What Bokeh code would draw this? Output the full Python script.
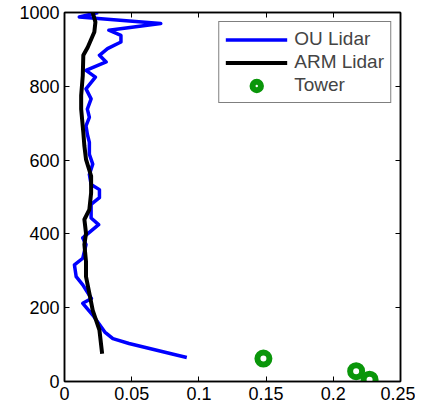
from bokeh.plotting import figure
from bokeh.models import (LinearAxis, FixedTicker, CustomJSTickFormatter, Range1d,
                          Legend, LegendItem)
from bokeh.embed import file_html
from bokeh.resources import INLINE

# ---- data ----
ou_x = [0.091, 0.084, 0.048, 0.036, 0.030, 0.021, 0.0136, 0.020, 0.0136, 0.0087,
        0.0074, 0.0136, 0.016, 0.0136, 0.0254, 0.0198, 0.0198, 0.026, 0.026, 0.0198,
        0.0185, 0.021, 0.0185, 0.0185, 0.017, 0.016, 0.0185, 0.017, 0.0198, 0.016,
        0.023, 0.016, 0.031, 0.026, 0.032, 0.042, 0.042, 0.033, 0.0716, 0.011, 0.025]
ou_y = [65, 71, 103, 116, 134, 180, 212, 225, 262, 284,
        316, 334, 371, 389, 425, 443, 480, 498, 520, 534,
        561, 589, 616, 648, 670, 693, 716, 738, 766, 793,
        825, 843, 866, 884, 902, 920, 938, 952, 970, 988, 1000]

arm_x = [0.028, 0.026, 0.021, 0.0185, 0.016, 0.016, 0.0148, 0.016, 0.0148, 0.0185,
         0.0198, 0.0198, 0.016, 0.0148, 0.014, 0.0124, 0.0124, 0.0136, 0.014, 0.0173,
         0.0222, 0.023, 0.021]
arm_y = [75, 139, 193, 239, 284, 325, 371, 402, 439, 466,
         511, 557, 602, 638, 675, 738, 775, 829, 884, 906,
         947, 974, 1000]

tower_x = [0.148, 0.217, 0.227]
tower_y = [62, 28, 5]

x_ticks = [0, 0.05, 0.1, 0.15, 0.2, 0.25]
y_ticks = [0, 200, 400, 600, 800, 1000]

FONT = "Liberation Sans"
FS = "18px"

p = figure(width=415, height=402, output_backend="svg", toolbar_location=None,
           x_range=Range1d(0, 0.25), y_range=Range1d(0, 1000),
           min_border_left=64, min_border_top=12, min_border_right=15, min_border_bottom=0)
p.grid.visible = False
p.outline_line_color = "black"
p.outline_line_width = 1.5
p.background_fill_color = "white"
p.border_fill_color = "white"

fmt = CustomJSTickFormatter(code="return String(Number(tick.toFixed(4)));")
blank = CustomJSTickFormatter(code="return '';")

def style(ax, labels=True):
    ax.major_tick_in = 5
    ax.major_tick_out = 0
    ax.minor_tick_line_color = None
    ax.axis_line_color = "black"
    ax.axis_line_width = 1.5
    ax.major_tick_line_width = 1
    ax.major_label_text_font = FONT
    ax.major_label_text_color = "black"
    ax.major_label_text_font_size = FS
    ax.major_label_standoff = 5 if labels else 0

p.xaxis.ticker = FixedTicker(ticks=x_ticks)
p.xaxis.formatter = fmt
p.yaxis.ticker = FixedTicker(ticks=y_ticks)
p.yaxis.formatter = fmt
style(p.xaxis[0])
style(p.yaxis[0])

top = LinearAxis(ticker=FixedTicker(ticks=x_ticks), formatter=blank)
right = LinearAxis(ticker=FixedTicker(ticks=y_ticks), formatter=blank)
style(top, False)
style(right, False)
p.add_layout(top, "above")
p.add_layout(right, "right")

r_ou = p.line(ou_x, ou_y, line_color="#0000ff", line_width=3.5, line_join="round")
r_arm = p.line(arm_x, arm_y, line_color="black", line_width=4, line_join="round")
r_tw = p.scatter(tower_x, tower_y, marker="circle", size=12, line_width=6,
                 line_color="#0a960a", fill_color="white")

legend = Legend(items=[LegendItem(label="OU Lidar", renderers=[r_ou]),
                       LegendItem(label="ARM Lidar", renderers=[r_arm]),
                       LegendItem(label="Tower", renderers=[r_tw])],
                location="top_right", label_text_font=FONT, label_text_font_size="19px",
                glyph_width=62, glyph_height=21, label_height=21, spacing=1,
                padding=6, margin=9, label_standoff=7,
                border_line_color="black", border_line_width=1,
                background_fill_color="white", background_fill_alpha=1)
p.add_layout(legend, "center")

open("out.html", "w").write(file_html(p, INLINE))
